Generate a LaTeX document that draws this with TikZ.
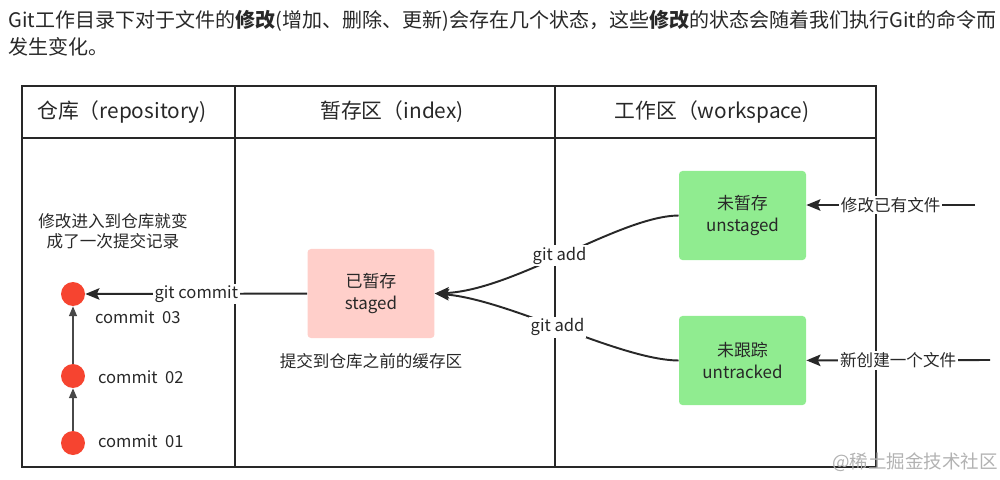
\documentclass[tikz,border=0pt]{standalone}
\usepackage{fontspec}
\setmainfont{Noto Sans CJK SC}
\usepackage{xcolor}
\usetikzlibrary{arrows.meta}

\definecolor{ink}{RGB}{40,40,40}
\definecolor{commitred}{RGB}{246,68,48}
\definecolor{stagedpink}{RGB}{255,207,202}
\definecolor{workgreen}{RGB}{144,236,144}

\tikzset{
  txt/.style={font=\fontsize{9.4}{11}\selectfont, text=ink, inner sep=1pt},
  head/.style={font=\fontsize{11.8}{14}\selectfont, text=ink},
  statebox/.style={rounded corners=2pt, minimum width=72pt, minimum height=50.5pt,
    align=center, font=\fontsize{9.6}{12}\selectfont, text=ink},
  commitdot/.style={circle, fill=commitred, minimum size=13.6pt, inner sep=0pt},
  cut/.style={fill=white, txt}
}

\begin{document}
\begin{tikzpicture}[x=0.567pt,y=-0.567pt]
		\useasboundingbox (0,0) rectangle (1000,479);
		% intro text
		\node[anchor=west, font=\fontsize{11.35}{13}\selectfont, text=ink, inner sep=0pt] (intro1) at (8,21)
		{Git工作目录下对于文件的\textbf{修改}(增加、删除、更新)会存在几个状态，这些\textbf{修改}的状态会随着我们执行Git的命令而};
		\node[anchor=west, font=\fontsize{11.35}{13}\selectfont, text=ink, inner sep=0pt] (intro2) at (8,47) {发生变化。};
		%
		% table
		\draw[ink, line width=1.5pt] (22,86) rectangle (876,467);
		\draw[ink, line width=1.5pt] (22,138) -- (876,138);
		\draw[ink, line width=1.5pt] (235,86) -- (235,467);
		\draw[ink, line width=1.5pt] (555,86) -- (555,467);
		\node[head] (repo) at (122,112) {仓库（repository)};
		\node[head] (index) at (392,112) {暂存区（index)};
		\node[head] (work) at (712,112) {工作区（workspace)};
		%
		% repository
		\node[txt, align=center] (reponote) at (113,231) {修改进入到仓库就变\\成了一次提交记录};
		\node[commitdot] (c3) at (73,294) {};
		\node[commitdot] (c2) at (73,376) {};
		\node[commitdot] (c1) at (73,443) {};
		\node[txt, anchor=west] (l3) at (93,317) {commit\ \ 03};
		\node[txt, anchor=west] (l2) at (96,377) {commit\ \ 02};
		\node[txt, anchor=west] (l1) at (96,441) {commit\ \ 01};
		\path[->, ink!85, line width=0.7pt, >={Triangle[length=5.5pt,width=4.5pt]}]
		(c1) edge (c2)
		(c2) edge (c3);
		%
		% index and workspace
		\node[statebox, fill=stagedpink] (staged) at (371,293.5) {已暂存\\staged};
		\node[txt] (stagednote) at (371,361) {提交到仓库之前的缓存区};
		\node[statebox, fill=workgreen] (unstaged) at (742.5,215.5) {未暂存\\unstaged};
		\node[statebox, fill=workgreen] (untracked) at (742.5,360.5) {未跟踪\\untracked};
		\coordinate (modin) at (975,205);
		\coordinate (newin) at (990,360);
		%
		\path[->, ink, line width=1.1pt, >={Stealth[length=8pt,width=6.5pt,inset=1.5pt]}]
		(staged) edge node[cut]{git commit} (c3)
		(modin) edge node[cut]{修改已有文件} (unstaged.east |- modin)
		(newin) edge node[cut]{新创建一个文件} (untracked);
		\draw[->, ink, line width=1.1pt, >={Stealth[length=8pt,width=6.5pt,inset=1.5pt]}]
		(unstaged.west) .. controls (620,216) and (515,290) .. node[cut, pos=0.52]{git add} (staged.east);
		\draw[->, ink, line width=1.1pt, >={Stealth[length=8pt,width=6.5pt,inset=1.5pt]}]
		(untracked.west) .. controls (620,360) and (510,300) .. node[cut, pos=0.52]{git add} (staged.east);
		%
		\node[font=\fontsize{10.5}{12}\selectfont, text=black!30] (mark) at (915,462) {@稀土掘金技术社区};
\end{tikzpicture}
\end{document}
